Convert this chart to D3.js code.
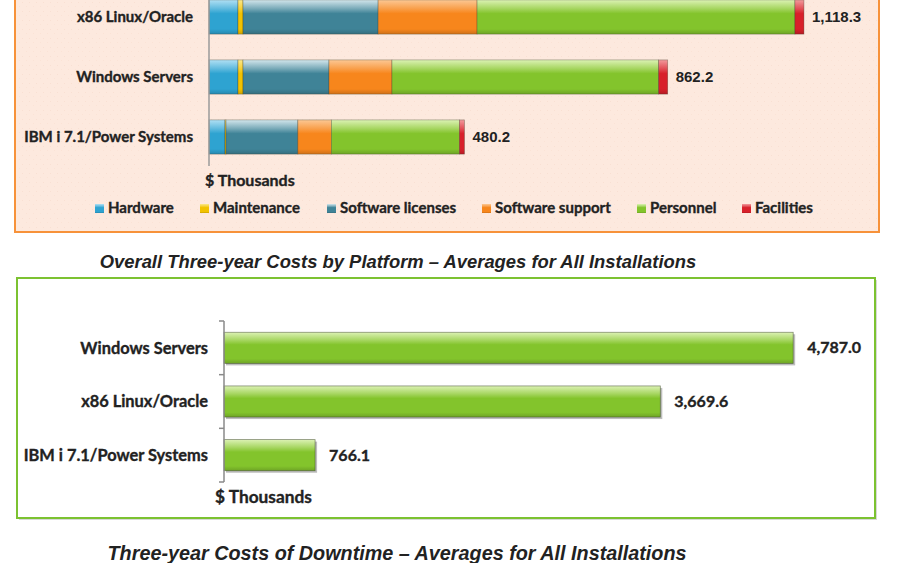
<!DOCTYPE html>
<html>
<head>
<meta charset="utf-8">
<script src="https://cdn.jsdelivr.net/npm/d3@7"></script>
<style>
  body { margin: 0; background: #fff; }
  svg { display: block; }
  text.heavy { stroke: #222; stroke-width: 0.35px; }
</style>
</head>
<body>
<svg id="chart" width="900" height="563"></svg>
<script>
// top chart: cost components per platform ($ thousands)
const platforms = ['x86 Linux/Oracle', 'Windows Servers', 'IBM i 7.1/Power Systems']
const components = ['Hardware', 'Maintenance', 'Software licenses', 'Software support', 'Personnel', 'Facilities']
const hardware = [54.5, 54.5, 30.0]
const maintenance = [9.4, 9.4, 2.0]
const softwareLicenses = [254.0, 161.6, 135.0]
const softwareSupport = [186.0, 118.4, 63.0]
const personnel = [597.4, 501.3, 240.8]
const facilities = [17.0, 17.0, 9.4]
const totals = ['1,118.3', '862.2', '480.2']

// bottom chart: downtime costs
const downtimePlatforms = ['Windows Servers', 'x86 Linux/Oracle', 'IBM i 7.1/Power Systems']
const downtimeCosts = [4787.0, 3669.6, 766.1]

const colors = ['#2ea3d1', '#f2c200', '#3f8397', '#f7861c', '#83c42c', '#d8202a']
const lightColors = ['#b0e0f4', '#fbe88a', '#d3e6ec', '#fcc894', '#dcf2b4', '#f29a9c']

const svg = d3.select('#chart')
const defs = svg.append('defs')

function gradient(id, light, dark) {
  const g = defs.append('linearGradient').attr('id', id)
    .attr('x1', 0).attr('y1', 0).attr('x2', 0).attr('y2', 1)
  g.append('stop').attr('offset', '0%').attr('stop-color', light)
  g.append('stop').attr('offset', '25%').attr('stop-color', d3.interpolateRgb(light, dark)(0.6))
  g.append('stop').attr('offset', '40%').attr('stop-color', dark)
  g.append('stop').attr('offset', '85%').attr('stop-color', dark)
  g.append('stop').attr('offset', '100%').attr('stop-color', d3.color(dark).darker(0.5))
}
colors.forEach((c, i) => gradient('g' + i, lightColors[i], c))

// faint speckle texture for the top panel
const pat = defs.append('pattern').attr('id', 'speckle')
  .attr('width', 7).attr('height', 9).attr('patternUnits', 'userSpaceOnUse')
pat.append('rect').attr('width', 7).attr('height', 9).attr('fill', '#fde9de')
pat.append('rect').attr('x', 1).attr('y', 2).attr('width', 1).attr('height', 1).attr('fill', '#f9e0d3')
pat.append('rect').attr('x', 5).attr('y', 6).attr('width', 1).attr('height', 1).attr('fill', '#fbe3d6')

const labelFont = 'Lato, "Open Sans", sans-serif'
const numFont = '"Liberation Sans", Arial, sans-serif'

// ---------- top panel ----------
svg.append('rect')
  .attr('x', 15).attr('y', -10).attr('width', 864).attr('height', 242)
  .attr('fill', 'url(#speckle)').attr('stroke', '#f7923a').attr('stroke-width', 2)

const stackData = platforms.map((p, i) => ({
  platform: p,
  Hardware: hardware[i],
  Maintenance: maintenance[i],
  'Software licenses': softwareLicenses[i],
  'Software support': softwareSupport[i],
  Personnel: personnel[i],
  Facilities: facilities[i]
}))
const series = d3.stack().keys(components)(stackData)

const x1 = d3.scaleLinear().domain([0, 1000]).range([209, 741])
const y1 = d3.scaleBand().domain(platforms).range([-13, 167])
  .paddingInner(0.43).paddingOuter(0.215)

const topG = svg.append('g')

topG.selectAll('g.series').data(series).enter()
  .append('g').attr('class', 'series')
  .attr('fill', (d, i) => 'url(#g' + i + ')')
  .selectAll('rect').data(d => d).enter()
  .append('rect')
  .attr('x', d => x1(d[0]))
  .attr('y', d => y1(d.data.platform))
  .attr('width', d => x1(d[1]) - x1(d[0]))
  .attr('height', y1.bandwidth())
  .attr('stroke', 'rgba(60,60,40,0.45)').attr('stroke-width', 0.7)

topG.append('line')
  .attr('x1', x1(0)).attr('x2', x1(0))
  .attr('y1', -10).attr('y2', 166)
  .attr('stroke', '#9a9a9a').attr('stroke-width', 1.5)

topG.selectAll('text.cat').data(platforms).enter()
  .append('text').attr('class', 'cat heavy')
  .attr('x', 193).attr('y', d => y1(d) + y1.bandwidth() / 2)
  .attr('dy', '0.35em').attr('text-anchor', 'end')
  .attr('font-family', labelFont).attr('font-weight', 'bold').attr('font-size', 15)
  .attr('fill', '#222').text(d => d)

topG.selectAll('text.val').data(series[series.length - 1]).enter()
  .append('text').attr('class', 'val')
  .attr('x', d => x1(d[1]) + 8).attr('y', d => y1(d.data.platform) + y1.bandwidth() / 2)
  .attr('dy', '0.35em')
  .attr('font-family', numFont).attr('font-weight', 'bold').attr('font-size', 15)
  .attr('fill', '#222').text((d, i) => totals[i])

topG.append('text').attr('class', 'heavy')
  .attr('x', 205).attr('y', 186)
  .attr('font-family', labelFont).attr('font-weight', 'bold').attr('font-size', 16)
  .attr('fill', '#222').text('$ Thousands')

// legend
const legendX = [95, 200, 327, 482, 637, 742]
const legend = topG.selectAll('g.leg').data(components).enter()
  .append('g').attr('class', 'leg')
  .attr('transform', (d, i) => `translate(${legendX[i]},208)`)
legend.append('rect')
  .attr('x', 0).attr('y', -4).attr('width', 9).attr('height', 9)
  .attr('fill', (d, i) => 'url(#g' + i + ')')
legend.append('text').attr('class', 'heavy')
  .attr('x', 13).attr('y', 0).attr('dy', '0.35em')
  .attr('font-family', labelFont).attr('font-weight', 'bold').attr('font-size', 15)
  .attr('fill', '#222').text(d => d)

svg.append('text')
  .attr('x', 398).attr('y', 268).attr('text-anchor', 'middle')
  .attr('font-family', numFont).attr('font-weight', 'bold').attr('font-style', 'italic')
  .attr('font-size', 18.4).attr('fill', '#222')
  .text('Overall Three-year Costs by Platform – Averages for All Installations')

// ---------- bottom panel ----------
svg.append('rect')
  .attr('x', 19).attr('y', 280).attr('width', 858).attr('height', 240)
  .attr('fill', '#d8d8d8')
svg.append('rect')
  .attr('x', 17).attr('y', 278).attr('width', 858).attr('height', 240)
  .attr('fill', '#fff').attr('stroke', '#7cc231').attr('stroke-width', 2)

const x2 = d3.scaleLinear().domain([0, 5000]).range([224, 818.5])
const y2 = d3.scaleBand().domain(downtimePlatforms).range([321, 482])
  .paddingInner(0.42).paddingOuter(0.21)

const bottomG = svg.append('g')

bottomG.selectAll('rect.shadow').data(downtimeCosts).enter()
  .append('rect').attr('class', 'shadow')
  .attr('x', x2(0) + 2).attr('y', (d, i) => y2(downtimePlatforms[i]) + 2)
  .attr('width', d => x2(d) - x2(0)).attr('height', y2.bandwidth())
  .attr('fill', '#bdbdbd')

bottomG.selectAll('rect.bar').data(downtimeCosts).enter()
  .append('rect').attr('class', 'bar')
  .attr('x', x2(0)).attr('y', (d, i) => y2(downtimePlatforms[i]))
  .attr('width', d => x2(d) - x2(0)).attr('height', y2.bandwidth())
  .attr('fill', 'url(#g4)')
  .attr('stroke', 'rgba(60,70,40,0.6)').attr('stroke-width', 0.8)

// axis line with ticks at band boundaries
const edges = downtimePlatforms.map(d => y2(d) - y2.step() * y2.paddingInner() / 2)
edges[0] = y2.range()[0]
edges.push(y2.range()[1])
bottomG.append('line')
  .attr('x1', x2(0)).attr('x2', x2(0))
  .attr('y1', edges[0]).attr('y2', edges[edges.length - 1])
  .attr('stroke', '#8a8a8a').attr('stroke-width', 1.5)
bottomG.selectAll('line.tick').data(edges).enter()
  .append('line').attr('class', 'tick')
  .attr('x1', x2(0) - 5).attr('x2', x2(0))
  .attr('y1', d => d).attr('y2', d => d)
  .attr('stroke', '#8a8a8a').attr('stroke-width', 1.5)

bottomG.selectAll('text.cat').data(downtimePlatforms).enter()
  .append('text').attr('class', 'cat heavy')
  .attr('x', 208).attr('y', d => y2(d) + y2.bandwidth() / 2)
  .attr('dy', '0.35em').attr('text-anchor', 'end')
  .attr('font-family', labelFont).attr('font-weight', 'bold').attr('font-size', 16.4)
  .attr('fill', '#222').text(d => d)

bottomG.selectAll('text.val').data(downtimeCosts).enter()
  .append('text').attr('class', 'val heavy')
  .attr('x', d => x2(d) + 14).attr('y', (d, i) => y2(downtimePlatforms[i]) + y2.bandwidth() / 2)
  .attr('dy', '0.35em')
  .attr('font-family', labelFont).attr('font-weight', 'bold').attr('font-size', 16)
  .attr('fill', '#222').text(d => d3.format(',.1f')(d))

bottomG.append('text').attr('class', 'heavy')
  .attr('x', 215).attr('y', 503)
  .attr('font-family', labelFont).attr('font-weight', 'bold').attr('font-size', 17.3)
  .attr('fill', '#222').text('$ Thousands')

svg.append('text')
  .attr('x', 397).attr('y', 560).attr('text-anchor', 'middle')
  .attr('font-family', numFont).attr('font-weight', 'bold').attr('font-style', 'italic')
  .attr('font-size', 19.8).attr('fill', '#222')
  .text('Three-year Costs of Downtime – Averages for All Installations')
</script>
</body>
</html>
